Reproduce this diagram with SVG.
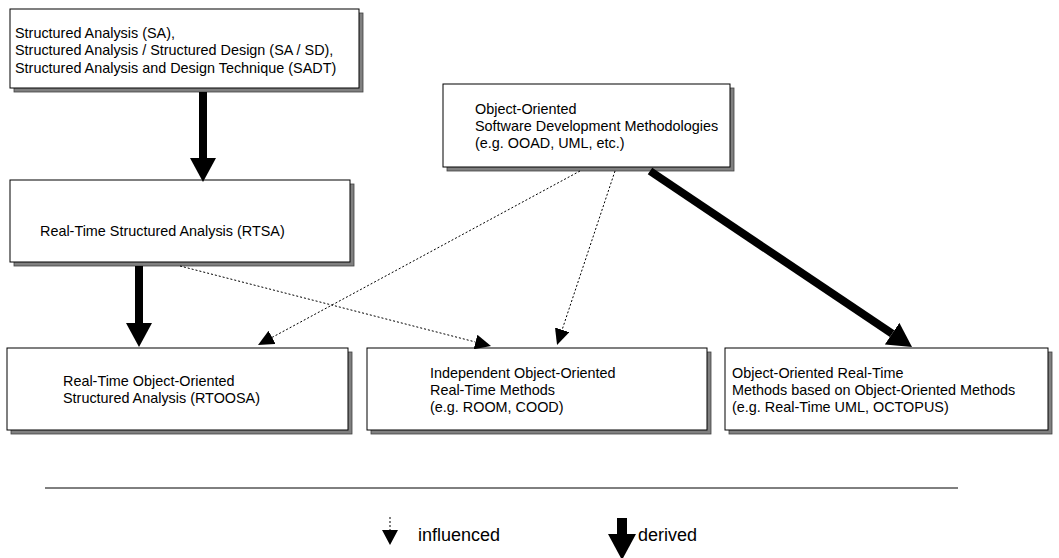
<svg xmlns="http://www.w3.org/2000/svg" width="1059" height="558" viewBox="0 0 1059 558">
  <style>
    .box { fill: #ffffff; stroke: #000000; stroke-width: 1; }
    .shadow { fill: #808080; stroke: #404040; stroke-width: 0.8; }
    .label { font-family: "Liberation Sans", Arial, sans-serif; font-size: 14.4px; fill: #000000; }
    .legend-label { font-family: "Liberation Sans", Arial, sans-serif; font-size: 18px; fill: #000000; }
    .derived { stroke: #000000; stroke-width: 8; fill: none; }
    .influenced { stroke: #000000; stroke-width: 1; stroke-dasharray: 2 2; fill: none; }
    .rule { stroke: #000000; stroke-width: 1; }
  </style>
  <defs>
    <marker id="bigHead" markerUnits="userSpaceOnUse" viewBox="0 -13 24 26" refX="0" refY="0" markerWidth="24" markerHeight="26" orient="auto">
      <path d="M0,-13 L24,0 L0,13 z" fill="#000000"/>
    </marker>
    <marker id="smallHead" markerUnits="userSpaceOnUse" viewBox="0 -7.5 16 15" refX="0" refY="0" markerWidth="16" markerHeight="15" orient="auto">
      <path d="M0,-7.5 L16,0 L0,7.5 z" fill="#000000"/>
    </marker>
  </defs>

  <!-- Structured analysis family -->
  <g id="node-sa">
    <rect class="shadow" x="14" y="13" width="349" height="79"/>
    <rect class="box" x="10" y="9" width="349" height="79"/>
    <text class="label" x="15" y="37.5">Structured Analysis (SA),</text>
    <text class="label" x="15" y="55">Structured Analysis / Structured Design (SA / SD),</text>
    <text class="label" x="15" y="72.5">Structured Analysis and Design Technique (SADT)</text>
  </g>

  <!-- Object-oriented development methodologies -->
  <g id="node-oo">
    <rect class="shadow" x="447" y="88" width="287" height="83"/>
    <rect class="box" x="443" y="84" width="287" height="83"/>
    <text class="label" x="475" y="113.5">Object-Oriented</text>
    <text class="label" x="475" y="131">Software Development Methodologies</text>
    <text class="label" x="475" y="148">(e.g. OOAD, UML, etc.)</text>
  </g>

  <!-- RTSA -->
  <g id="node-rtsa">
    <rect class="shadow" x="14" y="184" width="340" height="82"/>
    <rect class="box" x="10" y="180" width="340" height="82"/>
    <text class="label" x="40" y="236">Real-Time Structured Analysis (RTSA)</text>
  </g>

  <!-- RTOOSA -->
  <g id="node-rtoosa">
    <rect class="shadow" x="11" y="352" width="341" height="82"/>
    <rect class="box" x="7" y="348" width="341" height="82"/>
    <text class="label" x="63" y="386">Real-Time Object-Oriented</text>
    <text class="label" x="63" y="403">Structured Analysis (RTOOSA)</text>
  </g>

  <!-- Independent OO real-time methods -->
  <g id="node-independent">
    <rect class="shadow" x="371" y="352" width="340" height="82"/>
    <rect class="box" x="367" y="348" width="340" height="82"/>
    <text class="label" x="430" y="378">Independent Object-Oriented</text>
    <text class="label" x="430" y="395">Real-Time Methods</text>
    <text class="label" x="430" y="412">(e.g. ROOM, COOD)</text>
  </g>

  <!-- OO real-time methods based on OO methods -->
  <g id="node-oort">
    <rect class="shadow" x="729" y="352" width="323" height="82"/>
    <rect class="box" x="725" y="348" width="323" height="82"/>
    <text class="label" x="732" y="378">Object-Oriented Real-Time</text>
    <text class="label" x="732" y="395">Methods based on Object-Oriented Methods</text>
    <text class="label" x="732" y="412">(e.g. Real-Time UML, OCTOPUS)</text>
  </g>

  <!-- Connectors -->
  <g id="connectors">
    <line class="derived" x1="203" y1="92" x2="203" y2="158" marker-end="url(#bigHead)"/>
    <line class="derived" x1="139" y1="266" x2="139" y2="323" marker-end="url(#bigHead)"/>
    <line class="derived" x1="650" y1="171" x2="892.1" y2="333.6" marker-end="url(#bigHead)"/>
    <line class="influenced" x1="580" y1="171" x2="272.1" y2="337.4" marker-end="url(#smallHead)"/>
    <line class="influenced" x1="615" y1="171" x2="562.1" y2="329.8" marker-end="url(#smallHead)"/>
    <line class="influenced" x1="180" y1="266" x2="475.5" y2="342" marker-end="url(#smallHead)"/>
  </g>

  <!-- Legend -->
  <g id="legend">
    <line class="rule" x1="45" y1="488" x2="958" y2="488"/>
    <line class="influenced" x1="390" y1="517" x2="390" y2="531"/>
    <path d="M382,530 L398,530 L390,545 z" fill="#000000"/>
    <text class="legend-label" x="418" y="541">influenced</text>
    <rect x="617" y="518" width="10" height="18" fill="#000000"/>
    <path d="M608,534 L636,534 L622,560 z" fill="#000000"/>
    <text class="legend-label" x="638" y="541">derived</text>
  </g>
</svg>
